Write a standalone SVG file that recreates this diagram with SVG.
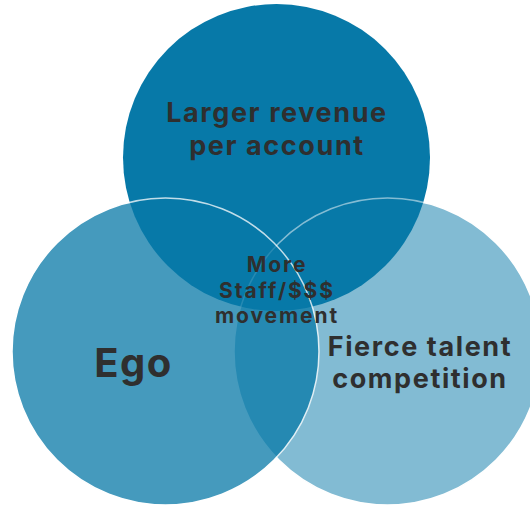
<svg xmlns="http://www.w3.org/2000/svg" width="530" height="506" viewBox="0 0 530 506">
  <style>
    .ring { fill: #0779A8; stroke: #FFFFFF; stroke-width: 1.5; }
    .label { font-family: Inter, "Open Sans", "Liberation Sans", sans-serif; font-weight: 700; fill: #2F2F2F; text-anchor: middle; }
    .big { font-size: 27px; letter-spacing: 1.6px; }
    .small { font-size: 21px; letter-spacing: 1.9px; }
  </style>
  <rect width="530" height="506" fill="#FFFFFF"/>
  <!-- top circle: opaque -->
  <g id="revenue">
    <circle cx="276.5" cy="157.5" r="153.5" fill="#0779A8"/>
    <text class="label big" x="277" y="122">Larger revenue</text>
    <text class="label big" x="277" y="155">per account</text>
  </g>
  <!-- right circle: half opacity -->
  <g id="talent">
    <circle class="ring" cx="387.5" cy="351.5" r="153.5" opacity="0.5"/>
  </g>
  <!-- left circle: three-quarter opacity -->
  <g id="ego">
    <circle class="ring" cx="165.5" cy="351.5" r="153.5" opacity="0.75"/>
    <text class="label" x="133.5" y="377" font-size="40" letter-spacing="1.5">Ego</text>
  </g>
  <g id="talent-label">
    <text class="label big" x="420" y="356">Fierce talent</text>
    <text class="label big" x="420" y="388">competition</text>
  </g>
  <g id="center">
    <text class="label small" x="277" y="272">More</text>
    <text class="label small" x="277" y="298">Staff/$$$</text>
    <text class="label small" x="277" y="323">movement</text>
  </g>
  <g id="connectors"/>
</svg>
